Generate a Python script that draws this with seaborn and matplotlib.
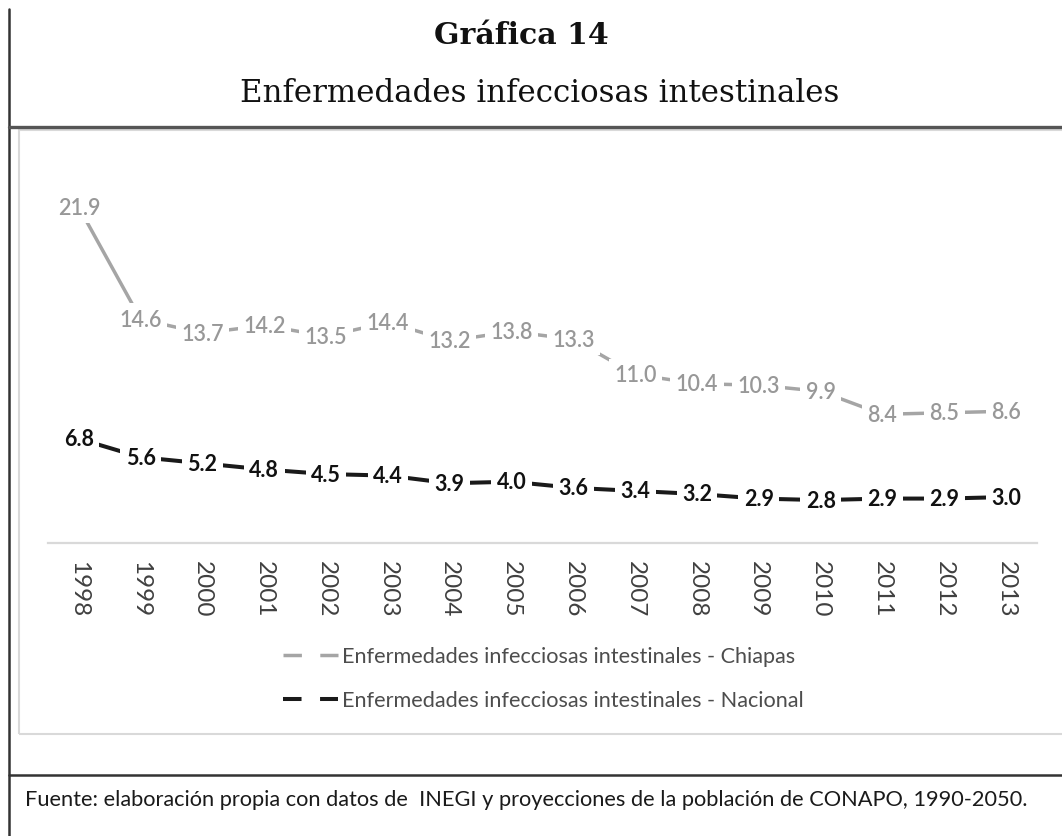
import numpy as np
import pandas as pd
import matplotlib
matplotlib.use("Agg")
import matplotlib.pyplot as plt
from matplotlib.lines import Line2D
from matplotlib.patches import Rectangle
import seaborn as sns

# datos
anios = [str(a) for a in range(1998, 2014)]
chiapas = [21.9, 14.6, 13.7, 14.2, 13.5, 14.4, 13.2, 13.8, 13.3,
           11.0, 10.4, 10.3, 9.9, 8.4, 8.5, 8.6]
nacional = [6.8, 5.6, 5.2, 4.8, 4.5, 4.4, 3.9, 4.0, 3.6,
            3.4, 3.2, 2.9, 2.8, 2.9, 2.9, 3.0]
etiqueta_chiapas = "Enfermedades infecciosas intestinales - Chiapas"
etiqueta_nacional = "Enfermedades infecciosas intestinales - Nacional"

color_chiapas = "#A5A5A5"
color_nacional = "#1A1A1A"

sns.set_style("white")
plt.rcParams['font.family'] = ['Lato', 'DejaVu Sans']

W, H = 1062, 837
fig = plt.figure(figsize=(W / 100, H / 100), dpi=100)

def fx(px):
    return px / W

def fy(py):
    return 1 - py / H

ax = fig.add_axes([fx(48), fy(544), fx(1037) - fx(48), fy(161) - fy(544)])

df = pd.DataFrame({"anio": anios, "Chiapas": chiapas, "Nacional": nacional})
sns.lineplot(data=df, x="anio", y="Chiapas", ax=ax, color=color_chiapas, lw=2.5, sort=False)
sns.lineplot(data=df, x="anio", y="Nacional", ax=ax, color=color_nacional, lw=2.9, sort=False)

for i, v in enumerate(chiapas):
    ax.text(i, v, f"{v:.1f}", ha="center", va="center", fontsize=15.5, color="#989898",
            fontweight="semibold", zorder=5,
            bbox=dict(boxstyle="square,pad=0.25", fc="white", ec="none"))
for i, v in enumerate(nacional):
    ax.text(i, v, f"{v:.1f}", ha="center", va="center", fontsize=15.5, color="#111111",
            fontweight="bold", zorder=5,
            bbox=dict(boxstyle="square,pad=0.25", fc="white", ec="none"))

ax.set_xlim(-0.5, len(anios) - 0.5)
ax.set_ylim(0, 25)
ax.set_xlabel("")
ax.set_ylabel("")
ax.set_yticks([])
ax.tick_params(axis="x", length=0, pad=12, labelsize=17.5, labelcolor="#404040",
               labelrotation=270)
for s in ["top", "left", "right"]:
    ax.spines[s].set_visible(False)
ax.spines["bottom"].set_color("#D9D9D9")
ax.spines["bottom"].set_linewidth(1.6)

# leyenda
handles = [
    Line2D([], [], color=color_chiapas, lw=2.5, linestyle=(0, (5.3, 5.3))),
    Line2D([], [], color=color_nacional, lw=2.9, linestyle=(0, (4.6, 4.6))),
]
fig.legend(handles, [etiqueta_chiapas, etiqueta_nacional], loc="upper left",
           bbox_to_anchor=(fx(263), fy(628)), frameon=False, fontsize=15.6,
           handlelength=2.55, handletextpad=0.2, labelspacing=1.1,
           labelcolor="#4D4D4D")

# marcos
fig.add_artist(Line2D([fx(9), fx(9)], [fy(10), fy(H)], color="#333333", lw=1.8))
fig.add_artist(Line2D([fx(9), 1], [fy(128), fy(128)], color="#555555", lw=2.4))
fig.add_artist(Line2D([fx(9), 1], [fy(776), fy(776)], color="#333333", lw=1.8))
fig.add_artist(Rectangle((fx(19), fy(735)), 1.2, fy(131) - fy(735),
                         transform=fig.transFigure, fill=False, ec="#D9D9D9", lw=1.5))

# títulos
fig.text(fx(521), fy(36), "Gráfica 14", ha="center", va="center", fontsize=21.5,
         fontweight="bold", family="DejaVu Serif", color="#111111")
fig.text(fx(540), fy(93), "Enfermedades infecciosas intestinales", ha="center",
         va="center", fontsize=22.2, family="DejaVu Serif", color="#111111")
fig.text(fx(25), fy(800), "Fuente: elaboración propia con datos de  INEGI y proyecciones "
         "de la población de CONAPO, 1990-2050.", ha="left", va="center",
         fontsize=15.7, color="#1A1A1A")

fig.savefig("out.png", dpi=100)
